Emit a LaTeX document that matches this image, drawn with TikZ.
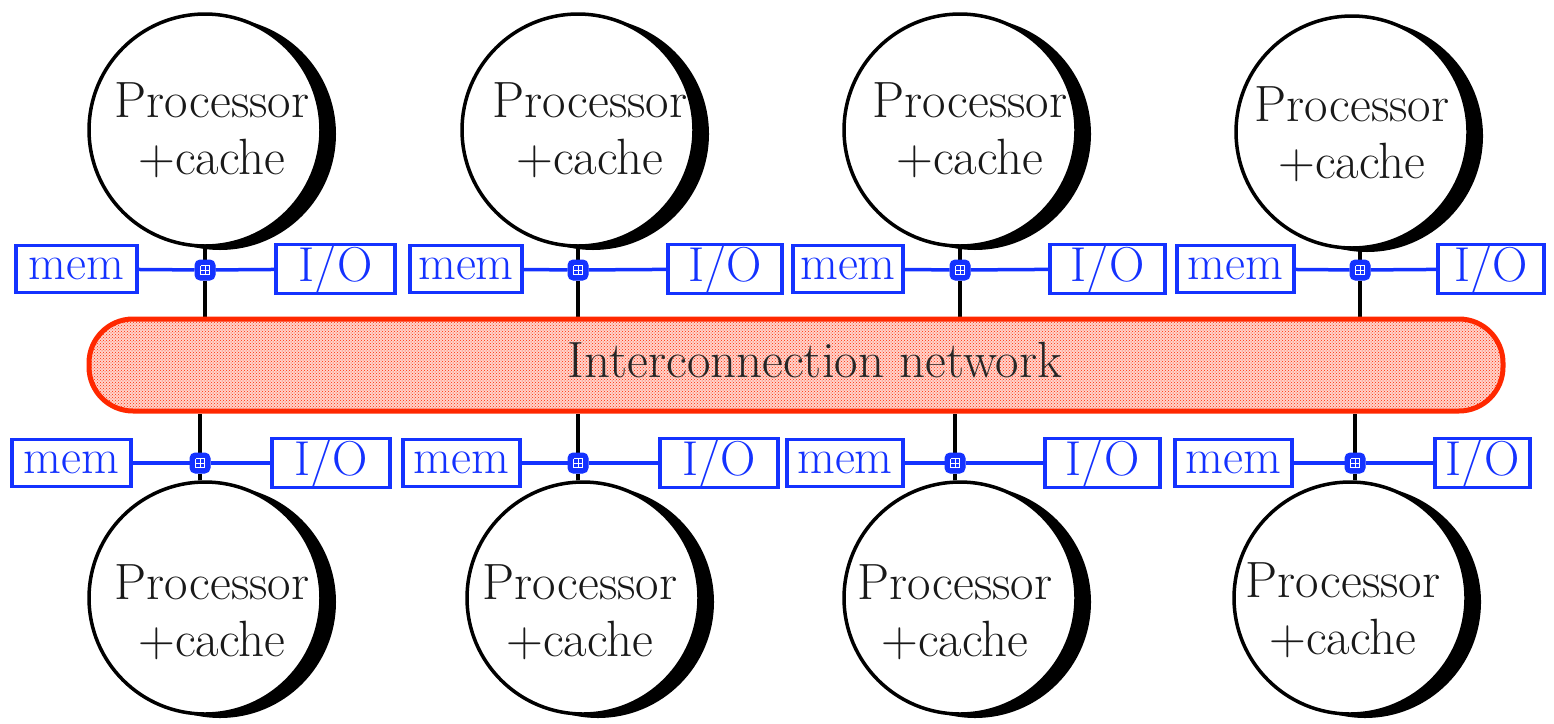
\documentclass[tikz,border=0pt]{standalone}
\usetikzlibrary{patterns,shadows,calc,backgrounds}
\definecolor{blu}{RGB}{20,50,255}
\definecolor{netred}{RGB}{255,40,0}
\begin{document}
\begin{tikzpicture}[x=1pt,y=-1pt,
  proc/.style={circle, draw=black, fill=white, line width=3.5pt, minimum size=232pt, inner sep=0pt,
    drop shadow={shadow xshift=15pt, shadow yshift=-4pt, opacity=1, fill=black}},
  ptext/.style={align=center, inner sep=0pt, font=\fontsize{51}{57}\selectfont, text=black!90},
  box/.style={draw=blu, line width=3.5pt, minimum height=47pt, inner sep=0pt, text=blu,
    font=\fontsize{49}{50}\selectfont},
  jn/.style={draw=blu, fill=blu, rounded corners=5pt, minimum size=20pt, inner sep=0pt, line width=1pt,
    path picture={\draw[white, line width=1pt]
      ($(path picture bounding box.center)+(-4.5pt,-4.5pt)$) grid[step=4.5pt]
      ($(path picture bounding box.center)+(4.5pt,4.5pt)$);}},
  bl/.style={blu, line width=3.5pt},
  kl/.style={black, line width=4pt},
  net/.style={draw=netred, line width=5pt, rounded corners=44pt, fill=netred!20,
    postaction={pattern=crosshatch dots, pattern color=netred},
    minimum width=1414pt, minimum height=92pt, inner sep=0pt}]
\useasboundingbox (0,0) rectangle (1554,723);

% network
\node[net] (net) at (796,365) {};
\node[inner sep=0pt, font=\fontsize{51}{50}\selectfont, text=black!85] (nettext) at (815,360) {Interconnection network};

% top circles
\node[proc] (pt1) at (205,130) {};
\node[proc] (pt2) at (578,130) {};
\node[proc] (pt3) at (960,130) {};
\node[proc] (pt4) at (1352,132) {};
\node[ptext] (tt1) at (212,130) {Processor\\+cache};
\node[ptext] (tt2) at (590,130) {Processor\\+cache};
\node[ptext] (tt3) at (970,130) {Processor\\+cache};
\node[ptext] (tt4) at (1352,134) {Processor\\+cache};

% bottom circles
\node[proc] (pb1) at (205,598) {};
\node[proc] (pb2) at (583,598) {};
\node[proc] (pb3) at (960,598) {};
\node[proc] (pb4) at (1350,598) {};
\node[ptext] (tb1) at (212,612) {Processor\\+cache};
\node[ptext] (tb2) at (580,612) {Processor\\+cache};
\node[ptext] (tb3) at (955,612) {Processor\\+cache};
\node[ptext] (tb4) at (1343,610) {Processor\\+cache};

% top junctions and boxes
\node[jn] (jt1) at (205,270) {};
\node[jn] (jt2) at (578,270) {};
\node[jn] (jt3) at (960,270) {};
\node[jn] (jt4) at (1360,270) {};
\node[box, minimum width=121pt] (mt1) at (76.5,269) {mem};
\node[box, minimum width=119pt] (it1) at (335.5,269) {I/O};
\node[box, minimum width=112pt] (mt2) at (466,269) {mem};
\node[box, minimum width=114pt] (it2) at (725,269) {I/O};
\node[box, minimum width=110pt] (mt3) at (848,269) {mem};
\node[box, minimum width=115pt] (it3) at (1107.5,269) {I/O};
\node[box, minimum width=117pt] (mt4) at (1235.5,269) {mem};
\node[box, minimum width=106pt] (it4) at (1491,269) {I/O};

% bottom junctions and boxes
\node[jn] (jb1) at (200,463) {};
\node[jn] (jb2) at (578,463) {};
\node[jn] (jb3) at (955,463) {};
\node[jn] (jb4) at (1355,463) {};
\node[box, minimum width=119pt] (mb1) at (71.5,463) {mem};
\node[box, minimum width=118pt] (ib1) at (331,463) {I/O};
\node[box, minimum width=117pt] (mb2) at (461.5,463) {mem};
\node[box, minimum width=118pt] (ib2) at (719,463) {I/O};
\node[box, minimum width=116pt] (mb3) at (845,463) {mem};
\node[box, minimum width=115pt] (ib3) at (1102.5,463) {I/O};
\node[box, minimum width=117pt] (mb4) at (1233.5,463) {mem};
\node[box, minimum width=95pt] (ib4) at (1482.5,463) {I/O};

% connectors (behind nodes)
\begin{scope}[on background layer]
\foreach \i in {1,2,3,4} {
  \draw[bl] (mt\i) -- (jt\i);
  \draw[bl] (jt\i) -- (it\i);
  \draw[kl] (jt\i) -- (jt\i |- pt\i.south);
  \draw[kl] (jt\i) -- (jt\i |- net.north);
  \draw[bl] (mb\i) -- (jb\i);
  \draw[bl] (jb\i) -- (ib\i);
  \draw[kl] (jb\i) -- (jb\i |- pb\i.north);
  \draw[kl] (jb\i) -- (jb\i |- net.south);
}
\end{scope}
\end{tikzpicture}
\end{document}
